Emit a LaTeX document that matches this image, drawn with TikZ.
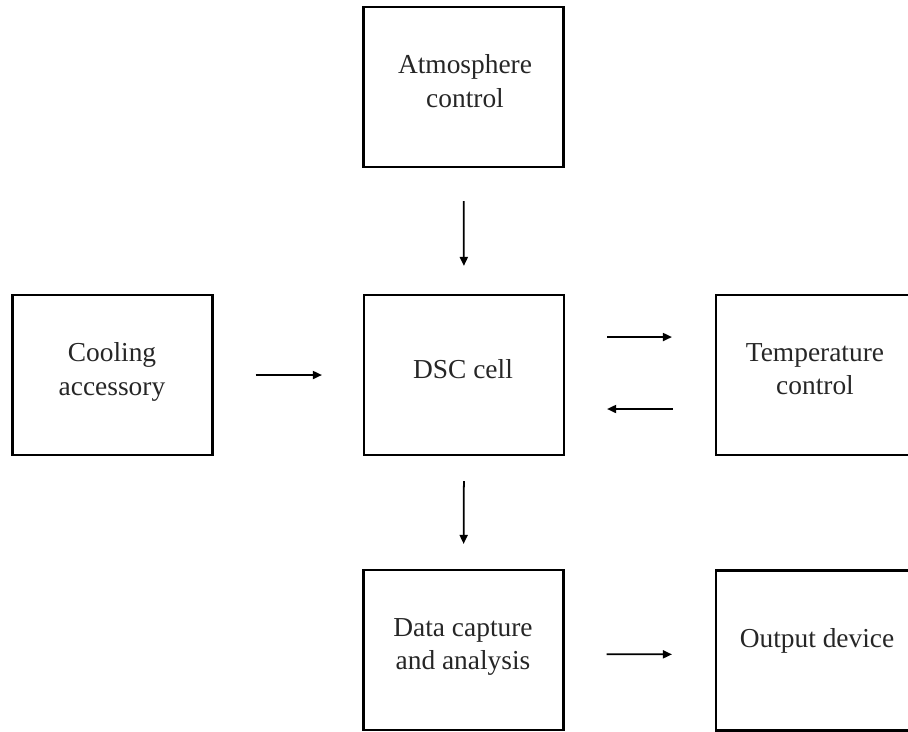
\documentclass[tikz,border=0pt]{standalone}
\usepackage{fontspec}
\setmainfont{Liberation Serif}
\usetikzlibrary{arrows.meta}
\tikzset{
  blockbox/.style={draw=black, line width=1.25pt, minimum width=4cm, minimum height=3.2cm, inner sep=0pt},
  blocktext/.style={align=center, inner sep=0pt, font=\fontsize{15.6}{19}\selectfont, text=black!85},
  flowarrow/.style={line width=1pt, draw=black, -{Triangle[length=1.8mm, width=1.6mm]}}
}
\begin{document}
\begin{tikzpicture}[x=0.02cm, y=-0.02cm]
\useasboundingbox (0,0) rectangle (908,731);
\clip (0,0) rectangle (908,731);
% boxes
\node[blockbox] (atm)  at (463.5,87)  {};
\node[blockbox] (cool) at (112.5,375) {};
\node[blockbox] (dsc)  at (464,375)   {};
\node[blockbox] (temp) at (816,375)   {};
\node[blockbox] (data) at (463.5,650) {};
\node[blockbox] (out)  at (816,650.5) {};
% texts
\node[blocktext] (atmt)  at (465,81)  {Atmosphere\\control};
\node[blocktext] (coolt) at (112,372) {Cooling\\accessory};
\node[blocktext] (dsct)  at (463,369) {DSC cell};
\node[blocktext] (tempt) at (815,369) {Temperature\\control};
\node[blocktext] (datat) at (463,647) {Data capture\\and analysis};
\node[blocktext] (outt)  at (817,641) {Output device};
% arrows
\draw[flowarrow, shorten <=0.66cm, shorten >=0.56cm] (atm.south) -- (dsc.north);
\draw[flowarrow, shorten <=0.84cm, shorten >=0.82cm] (cool.east) -- (dsc.west);
\draw[flowarrow, shorten <=0.84cm, shorten >=0.86cm] ([yshift=0.76cm]dsc.east) -- ([yshift=0.76cm]temp.west);
\draw[flowarrow, shorten <=0.84cm, shorten >=0.84cm] ([yshift=-0.68cm]temp.west) -- ([yshift=-0.68cm]dsc.east);
\draw[flowarrow, shorten <=0.5cm, shorten >=0.5cm] (dsc.south) -- (data.north);
\draw[flowarrow, shorten <=0.84cm, shorten >=0.86cm] ([yshift=-0.08cm]data.east) -- ([yshift=-0.08cm]out.west);
\end{tikzpicture}
\end{document}
